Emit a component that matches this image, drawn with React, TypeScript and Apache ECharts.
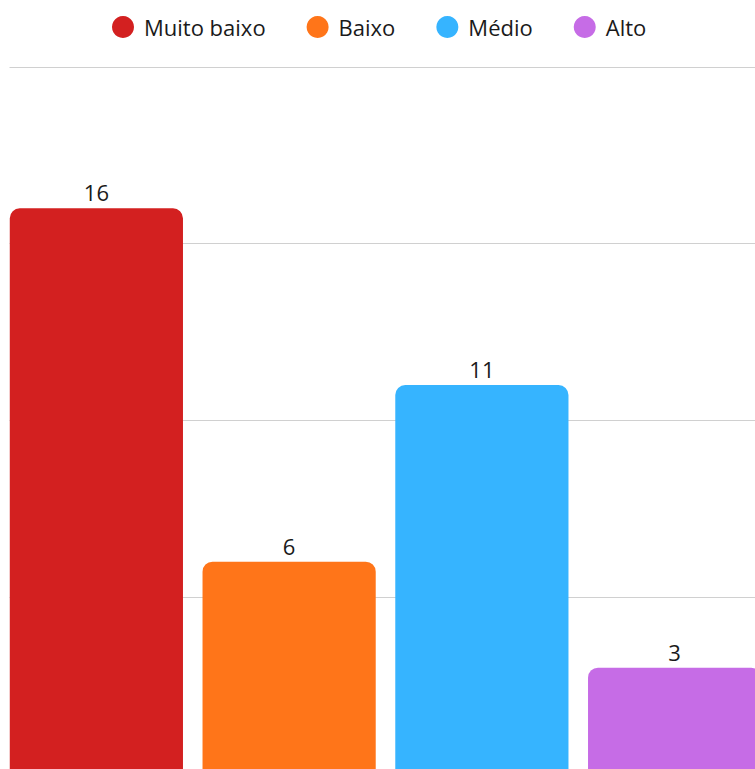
import React, { useEffect, useRef } from "react";
import * as echarts from "echarts";

const categories = ["Muito baixo", "Baixo", "Médio", "Alto"];
const values = [16, 6, 11, 3];
const colors = ["#d32020", "#ff7519", "#36b4ff", "#c66ce6"];
const yMin = 0;
const yMax = 20;
const yInterval = 5;

export default function App() {
  const ref = useRef<HTMLDivElement>(null);
  useEffect(() => {
    if (!ref.current) return;
    const chart = echarts.init(ref.current, undefined, { renderer: "svg" });
    const font = "'Open Sans', 'Noto Sans', sans-serif";
    const series = categories.map((name, i) => ({
      name,
      type: "bar",
      stack: "all",
      xAxisIndex: 0,
      yAxisIndex: 0,
      barWidth: 173.2,
      data: values.map((v, j) => (j === i ? v : "-")),
      itemStyle: { color: colors[i], borderRadius: [10, 10, 0, 0] },
      label: {
        show: true,
        position: "top",
        distance: 5,
        color: "#1a1a1a",
        fontSize: 22,
        fontFamily: font,
      },
    }));
    chart.setOption({
      animation: false,
      legend: {
        left: 107,
        top: 11,
        icon: "circle",
        itemWidth: 22,
        itemHeight: 22,
        itemGap: 41,
        textStyle: {
          fontSize: 22,
          fontFamily: font,
          color: "#1a1a1a",
          padding: [0, 0, 0, 5],
        },
        data: categories,
      },
      grid: [
        { left: 0, right: 0, top: 67, bottom: 6.3, containLabel: false },
        { left: 9.5, right: 0, top: 67, bottom: 6.3, containLabel: false },
      ],
      xAxis: [
        { gridIndex: 0, type: "category", data: categories, show: false },
        { gridIndex: 1, type: "category", data: categories, show: false },
      ],
      yAxis: [
        {
          gridIndex: 0,
          type: "value",
          min: yMin,
          max: yMax,
          interval: yInterval,
          show: false,
          splitLine: { show: false },
        },
        {
          gridIndex: 1,
          type: "value",
          min: yMin,
          max: yMax,
          interval: yInterval,
          axisLine: { show: false },
          axisTick: { show: false },
          axisLabel: { show: false },
          splitLine: { show: true, lineStyle: { color: "#d0d0d0", width: 1 } },
        },
      ],
      series,
    });
    return () => chart.dispose();
  }, []);
  return (
    <div
      ref={ref}
      style={{ position: "absolute", left: 0, top: 0, width: 771, height: 780 }}
    />
  );
}
